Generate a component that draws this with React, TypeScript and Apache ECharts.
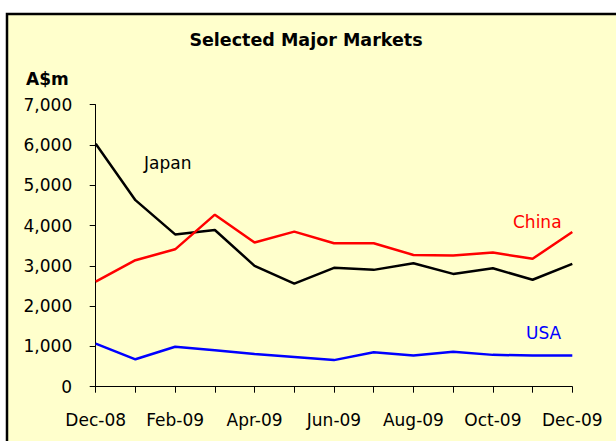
import React, { useEffect, useRef } from "react";
import * as echarts from "echarts";

const months = ["Dec-08", "Jan-09", "Feb-09", "Mar-09", "Apr-09", "May-09", "Jun-09", "Jul-09", "Aug-09", "Sep-09", "Oct-09", "Nov-09", "Dec-09"];
const japan = [6030, 4630, 3780, 3890, 3000, 2560, 2950, 2900, 3065, 2800, 2940, 2655, 3050];
const china = [2610, 3140, 3410, 4270, 3580, 3850, 3560, 3560, 3270, 3255, 3330, 3175, 3840];
const usa = [1070, 680, 990, 905, 810, 740, 660, 855, 775, 870, 790, 775, 775];
const yTicks = { min: 0, max: 7000, interval: 1000 };

const FONT = "DejaVu Sans";

export default function App() {
  const ref = useRef<HTMLDivElement>(null);
  useEffect(() => {
    if (!ref.current) return;
    const chart = echarts.init(ref.current, undefined, { renderer: "svg" });
    const txt = (text: string, x: number, y: number, color: string, bold = false, size = 17, align = "left") => ({
      type: "text",
      x,
      y,
      z: 10,
      style: {
        text,
        fill: color,
        font: `${bold ? "bold " : ""}${size}px "${FONT}"`,
        textAlign: align,
        textVerticalAlign: "middle",
      },
    });
    chart.setOption({
      animation: false,
      backgroundColor: "#ffffff",
      textStyle: { fontFamily: FONT },
      graphic: [
        {
          type: "rect",
          z: -10,
          silent: true,
          shape: { x: 7, y: 14, width: 800, height: 600 },
          style: { fill: "#FFFFCC", stroke: "#000000", lineWidth: 2.5 },
        },
        txt("Selected Major Markets", 306, 40, "#000000", true, 17.5, "center"),
        txt("A$m", 26, 79, "#000000", true, 17),
        txt("Japan", 144, 163, "#000000"),
        txt("China", 513, 222, "#FF0000"),
        txt("USA", 526, 333, "#0000FF"),
      ],
      grid: { left: 95.7, right: 43.7, top: 104.7, bottom: 54.3, containLabel: false },
      xAxis: {
        type: "category",
        data: months,
        boundaryGap: false,
        axisLine: { lineStyle: { color: "#000000", width: 1 } },
        axisTick: { show: true, interval: 0, length: 6, lineStyle: { color: "#000000" } },
        axisLabel: { interval: 1, margin: 25, color: "#000000", fontSize: 17, fontFamily: FONT },
        splitLine: { show: false },
      },
      yAxis: {
        type: "value",
        min: yTicks.min,
        max: yTicks.max,
        interval: yTicks.interval,
        axisLine: { show: true, lineStyle: { color: "#000000", width: 1 } },
        axisTick: { show: true, length: 6, lineStyle: { color: "#000000" } },
        axisLabel: {
          margin: 23.5,
          color: "#000000",
          fontSize: 17,
          fontFamily: FONT,
          formatter: (v: number) => v.toLocaleString("en-US"),
        },
        splitLine: { show: false },
      },
      series: [
        { name: "Japan", type: "line", data: japan, showSymbol: false, lineStyle: { color: "#000000", width: 2.5 }, itemStyle: { color: "#000000" } },
        { name: "China", type: "line", data: china, showSymbol: false, lineStyle: { color: "#FF0000", width: 2.5 }, itemStyle: { color: "#FF0000" } },
        { name: "USA", type: "line", data: usa, showSymbol: false, lineStyle: { color: "#0000FF", width: 2.5 }, itemStyle: { color: "#0000FF" } },
      ],
    });
    return () => chart.dispose();
  }, []);
  return <div ref={ref} style={{ position: "fixed", left: 0, top: 0, width: 616, height: 441 }} />;
}
